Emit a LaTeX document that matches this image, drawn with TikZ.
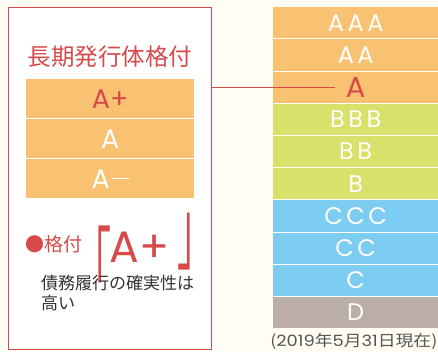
\documentclass[tikz,border=0pt]{standalone}
\usepackage{fontspec}
\setmainfont{Noto Sans CJK JP}
\newfontfamily\cjk{Noto Sans CJK JP}
\newfontfamily\lat{Poppins}
\definecolor{bgc}{HTML}{FFFDF4}
\definecolor{redc}{HTML}{D64A4A}
\definecolor{orc}{HTML}{F8C272}
\definecolor{grc}{HTML}{D8E16A}
\definecolor{blc}{HTML}{7DCCF1}
\definecolor{gyc}{HTML}{BBAEA6}
\definecolor{txc}{HTML}{333333}
\definecolor{ftc}{HTML}{555555}
\newcommand{\gs}{\hspace{3.5pt}}
\newcommand{\mydash}{\hspace{2pt}\rule[8.8pt]{17pt}{1.7pt}}
\newcommand{\tallbr}[1]{\smash{\rlap{\scalebox{1}[2.45]{#1}}}}
\begin{document}
\begin{tikzpicture}[x=1pt,y=-1pt,
  rowL/.style={fill=orc, minimum width=168pt, minimum height=39pt, inner sep=0pt, anchor=north west, text=white, font=\lat\fontsize{27}{27}\selectfont},
  rowR/.style={minimum width=165pt, minimum height=31.2pt, inner sep=0pt, anchor=north west, text=white, font=\lat\fontsize{24}{24}\selectfont},
  bra/.style={text=redc, inner sep=0pt, anchor=base west, font=\cjk\fontsize{36}{36}\selectfont},
  link/.style={draw=redc, line width=1pt}]
\fill[bgc] (0,0) rectangle (438,351);
\useasboundingbox (0,0) rectangle (438,351);
% left box
\node (lbox) [draw=redc, fill=white, line width=1.2pt, minimum width=203pt, minimum height=342pt, inner sep=0pt, anchor=north west] at (8,7) {};
\node (title) [text=redc, inner sep=0pt, font=\cjk\fontsize{23.5}{23.5}\selectfont] at (110,57) {長期発行体格付};
\node (lAp) [rowL, text=redc] at (26,79) {A+};
\node (lA) [rowL] at (26,119) {A};
\node (lAm) [rowL] at (26,159) {A\mydash};
\node (bul) [text=redc, inner sep=0pt, anchor=west, font=\cjk\fontsize{19}{19}\selectfont] at (25,244) {●格付};
\node (lbr) [bra] at (74.7,300) {\tallbr{「}};
\node (grade) [text=redc, inner sep=0pt, anchor=base west, font=\lat\fontsize{44}{44}\selectfont] at (109.5,262) {A+};
\node (rbr) [bra] at (176.3,262.5) {\tallbr{」}};
\node (desc1) [text=txc, inner sep=0pt, anchor=west, font=\cjk\fontsize{17}{17}\selectfont] at (41,283) {債務履行の確実性は};
\node (desc2) [text=txc, inner sep=0pt, anchor=west, font=\cjk\fontsize{17}{17}\selectfont] at (41,303) {高い};
% right column
\node (rAAA) [rowR, fill=orc] at (273,7) {A\gs A\gs A};
\node (rAA) [rowR, fill=orc] at (273,39.2) {A\gs A};
\node (rA) [rowR, fill=orc] at (273,71.4) {};
\node (rAt) [text=redc, inner sep=0pt, font=\lat\fontsize{29}{29}\selectfont] at (rA.center) {A};
\node (rBBB) [rowR, fill=grc] at (273,103.6) {B\gs B\gs B};
\node (rBB) [rowR, fill=grc] at (273,135.8) {B\gs B};
\node (rB) [rowR, fill=grc] at (273,168) {B};
\node (rCCC) [rowR, fill=blc] at (273,200.2) {C\gs C\gs C};
\node (rCC) [rowR, fill=blc] at (273,232.4) {C\gs C};
\node (rC) [rowR, fill=blc] at (273,264.6) {C};
\node (rD) [rowR, fill=gyc] at (273,296.8) {D};
\node (note) [text=ftc, inner sep=0pt, anchor=base east, font=\cjk\fontsize{15.5}{15.5}\selectfont] at (437.5,346.5) {\scalebox{1.15}[1]{({\lat 2019}年{\lat 5}月{\lat 31}日現在)}};
% connector
\draw[link, shorten >=11pt] (lbox.east |- rAt.west) -- (rAt.west);
\end{tikzpicture}
\end{document}
